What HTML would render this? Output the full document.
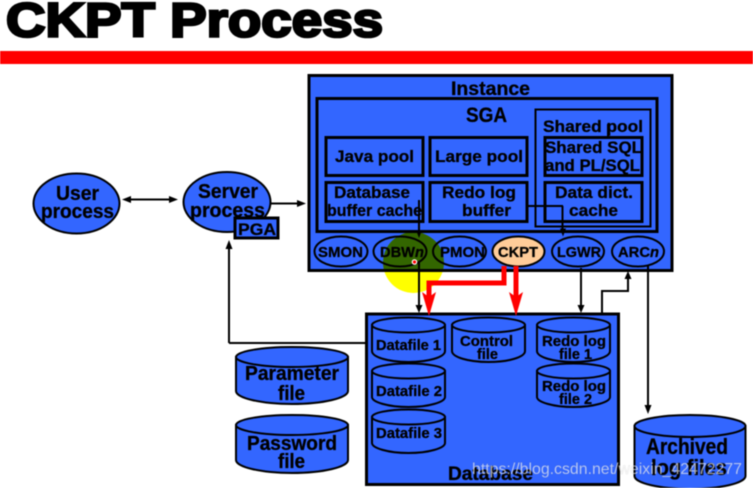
<!DOCTYPE html>
<html>
<head>
<meta charset="utf-8">
<style>
html,body{margin:0;padding:0;background:#fff;width:753px;height:488px;overflow:hidden}
svg{display:block;filter:blur(.4px)}
text{font-family:"Liberation Sans",Arial,sans-serif;font-weight:bold;fill:#000;stroke:#000;stroke-width:.3}
.b{fill:#3366ff;stroke:#000}
.l{fill:none;stroke:#000;stroke-width:2}
</style>
</head>
<body>
<svg width="753" height="488" viewBox="0 0 753 488" xmlns="http://www.w3.org/2000/svg">
<rect width="753" height="488" fill="#fff"/>
<!-- title -->
<text x="6" y="36.500" font-size="48" textLength="377" lengthAdjust="spacingAndGlyphs" style="stroke-width:2.6">CKPT Process</text>
<rect x="0" y="51" width="753" height="13" fill="#ff0000"/>

<!-- left connectors -->
<path class="l" d="M229 343V246M229 343H366"/>
<path d="M229 240l-3.500 9h7z"/>
<path class="l" d="M126 199.500H174"/>
<path d="M122 199.500l9-3.500v7zM178 199.500l-9-3.500v7z"/>
<path class="l" d="M271 203.500H301"/>
<path d="M306 203.500l-9-3.500v7z"/>

<!-- user / server -->
<ellipse class="b" cx="76.500" cy="203.500" rx="43" ry="30" stroke-width="2"/>
<text x="56" y="200" font-size="20" textLength="43" lengthAdjust="spacingAndGlyphs">User</text>
<text x="41" y="218" font-size="20" textLength="73" lengthAdjust="spacingAndGlyphs">process</text>
<ellipse class="b" cx="227" cy="202" rx="43.500" ry="30" stroke-width="2"/>
<text x="198" y="198" font-size="20" textLength="60" lengthAdjust="spacingAndGlyphs">Server</text>
<text x="190" y="217" font-size="20" textLength="75" lengthAdjust="spacingAndGlyphs">process</text>
<rect class="b" x="235" y="218" width="43" height="20" stroke-width="3"/>
<text x="238" y="235" font-size="17" textLength="38" lengthAdjust="spacingAndGlyphs">PGA</text>

<!-- instance -->
<rect class="b" x="309" y="75.500" width="363" height="195" stroke-width="3"/>
<text x="451" y="95" font-size="19" textLength="79" lengthAdjust="spacingAndGlyphs">Instance</text>
<rect class="b" x="317" y="98.500" width="340" height="133" stroke-width="3"/>
<text x="466" y="122" font-size="21" textLength="41" lengthAdjust="spacingAndGlyphs">SGA</text>
<rect class="b" x="535.500" y="109.500" width="115" height="117" stroke-width="2"/>
<text x="543" y="132" font-size="17" textLength="100" lengthAdjust="spacingAndGlyphs">Shared pool</text>
<path class="l" d="M608 124V138"/>

<rect class="b" x="326" y="137.500" width="97" height="38" stroke-width="3"/>
<text x="335" y="162" font-size="17" textLength="79" lengthAdjust="spacingAndGlyphs">Java pool</text>
<rect class="b" x="430" y="137.500" width="97" height="38" stroke-width="3"/>
<text x="435" y="162" font-size="17" textLength="88" lengthAdjust="spacingAndGlyphs">Large pool</text>
<rect class="b" x="545" y="137.500" width="97" height="38" stroke-width="3"/>
<text x="545" y="153" font-size="17" textLength="97" lengthAdjust="spacingAndGlyphs">Shared SQL</text>
<text x="545" y="171" font-size="17" textLength="95" lengthAdjust="spacingAndGlyphs">and PL/SQL</text>

<rect class="b" x="326" y="182.500" width="97" height="39" stroke-width="3"/>
<text x="334" y="198" font-size="17" textLength="76" lengthAdjust="spacingAndGlyphs">Database</text>
<text x="327" y="216" font-size="17" textLength="95" lengthAdjust="spacingAndGlyphs">buffer cache</text>
<rect class="b" x="430" y="182.500" width="97" height="39" stroke-width="3"/>
<text x="442" y="198" font-size="17" textLength="74" lengthAdjust="spacingAndGlyphs">Redo log</text>
<text x="462" y="216" font-size="17" textLength="49" lengthAdjust="spacingAndGlyphs">buffer</text>
<rect class="b" x="545" y="182.500" width="97" height="39" stroke-width="3"/>
<text x="555" y="198" font-size="17" textLength="78" lengthAdjust="spacingAndGlyphs">Data dict.</text>
<text x="569" y="216" font-size="17" textLength="49" lengthAdjust="spacingAndGlyphs">cache</text>

<!-- process ellipses -->
<ellipse class="b" cx="341" cy="251.500" rx="26.500" ry="15" stroke-width="2"/>
<ellipse class="b" cx="400" cy="251.500" rx="26.500" ry="15" stroke-width="2"/>
<ellipse class="b" cx="459.500" cy="251.500" rx="26.500" ry="15" stroke-width="2"/>
<ellipse cx="518.500" cy="251.500" rx="26" ry="15" fill="#ffcc99" stroke="#000" stroke-width="2"/>
<ellipse class="b" cx="578" cy="251.500" rx="26" ry="15" stroke-width="2"/>
<ellipse class="b" cx="638" cy="251.500" rx="26" ry="15" stroke-width="2"/>
<text x="318" y="257" font-size="15" textLength="45" lengthAdjust="spacingAndGlyphs">SMON</text>
<text x="380" y="257" font-size="15" textLength="44" lengthAdjust="spacingAndGlyphs">DBW<tspan font-style="italic">n</tspan></text>
<text x="440" y="257" font-size="15" textLength="45" lengthAdjust="spacingAndGlyphs">PMON</text>
<text x="498" y="257" font-size="15" textLength="40" lengthAdjust="spacingAndGlyphs">CKPT</text>
<text x="557" y="257" font-size="15" textLength="44" lengthAdjust="spacingAndGlyphs">LGWR</text>
<text x="618" y="257" font-size="15" textLength="41" lengthAdjust="spacingAndGlyphs">ARC<tspan font-style="italic">n</tspan></text>

<!-- inner connectors -->
<path class="l" d="M419 200V234"/>
<path d="M419 238l-3-8h6z"/>
<path d="M527 205h36v2h-36z"/>
<path class="l" d="M562.500 206V232"/>
<path d="M563 236.500l-3-8h6z"/>

<!-- database -->
<path class="l" d="M419 262V308"/>
<path class="l" d="M581 268V308M648 265V408M602 313V291H628V277"/>
<path d="M419 313l-3.500-8h7zM581 313l-3.500-8h7zM648 414l-3.500-9h7zM628 271l-3.500 8h7z"/>
<rect class="b" x="366.500" y="314" width="252" height="170.500" stroke-width="3"/>
<path d="M601 312h2v3h-2z"/>

<!-- database cylinders -->
<g stroke-width="2">
<path class="b" d="M372 325v26c0 6 16 11 36.500 11s36.500-5 36.500-11v-26z"/>
<ellipse class="b" cx="408.500" cy="325" rx="36.500" ry="7.500"/>
<path class="b" d="M372 371v26c0 5 16 10 36.500 10s36.500-5 36.500-10v-26z"/>
<ellipse class="b" cx="408.500" cy="371" rx="36.500" ry="7.500"/>
<path class="b" d="M372 417v26c0 5 16 10 36.500 10s36.500-5 36.500-10v-26z"/>
<ellipse class="b" cx="408.500" cy="417" rx="36.500" ry="7.500"/>
<path class="b" d="M452 325v26c0 6 16 11 36.500 11s36.500-5 36.500-11v-26z"/>
<ellipse class="b" cx="488.500" cy="325" rx="36.500" ry="7.500"/>
<path class="b" d="M537 325v26c0 6 16 11 36.500 11s36.500-5 36.500-11v-26z"/>
<ellipse class="b" cx="573.500" cy="325" rx="36.500" ry="7.500"/>
<path class="b" d="M537 371v26c0 5 16 10 36.500 10s36.500-5 36.500-10v-26z"/>
<ellipse class="b" cx="573.500" cy="371" rx="36.500" ry="7.500"/>
<!-- external -->
<path class="b" d="M236 357v34c0 7 25 13 56 13s56-6 56-13v-34z"/>
<ellipse class="b" cx="292" cy="357" rx="56" ry="10"/>
<path class="b" d="M236 425v35c0 7 25 13 56 13s56-6 56-13v-35z"/>
<ellipse class="b" cx="292" cy="425" rx="56" ry="10"/>
<path class="b" d="M634.500 426v50c0 7 25 13 55.500 13s55.500-6 55.500-13v-50z"/>
<ellipse class="b" cx="690" cy="426" rx="55.500" ry="11"/>
</g>
<text x="376" y="350" font-size="15" textLength="65" lengthAdjust="spacingAndGlyphs">Datafile 1</text>
<text x="376" y="396" font-size="15" textLength="66" lengthAdjust="spacingAndGlyphs">Datafile 2</text>
<text x="376" y="438" font-size="15" textLength="66" lengthAdjust="spacingAndGlyphs">Datafile 3</text>
<text x="460" y="346" font-size="15" textLength="53" lengthAdjust="spacingAndGlyphs">Control</text>
<text x="477" y="359" font-size="15" textLength="21" lengthAdjust="spacingAndGlyphs">file</text>
<text x="542" y="346" font-size="15" textLength="64" lengthAdjust="spacingAndGlyphs">Redo log</text>
<text x="559" y="359" font-size="15" textLength="33" lengthAdjust="spacingAndGlyphs">file 1</text>
<text x="542" y="391" font-size="15" textLength="64" lengthAdjust="spacingAndGlyphs">Redo log</text>
<text x="559" y="404" font-size="15" textLength="33" lengthAdjust="spacingAndGlyphs">file 2</text>
<text x="448" y="480" font-size="19" textLength="85" lengthAdjust="spacingAndGlyphs">Database</text>
<text x="245" y="380" font-size="20" textLength="94" lengthAdjust="spacingAndGlyphs">Parameter</text>
<text x="278" y="400" font-size="20" textLength="27" lengthAdjust="spacingAndGlyphs">file</text>
<text x="247" y="450" font-size="20" textLength="90" lengthAdjust="spacingAndGlyphs">Password</text>
<text x="278" y="468" font-size="20" textLength="27" lengthAdjust="spacingAndGlyphs">file</text>
<text x="646" y="454" font-size="22" textLength="82" lengthAdjust="spacingAndGlyphs">Archived</text>
<text x="651" y="475" font-size="22" textLength="76" lengthAdjust="spacingAndGlyphs">log files</text>

<!-- red CKPT arrows -->
<path d="M504 266V283H429V300" fill="none" stroke="#ff0000" stroke-width="5"/>
<path d="M516 266V300" fill="none" stroke="#ff0000" stroke-width="5"/>
<path d="M429 316l-7-24 7 5 7-5z" fill="#ff0000"/>
<path d="M516 316l-7-24 7 5 7-5z" fill="#ff0000"/>

<!-- yellow highlight -->
<circle cx="413.500" cy="262.500" r="30.500" fill="#ffff00" style="mix-blend-mode:multiply"/>
<circle cx="414.500" cy="262" r="2.200" fill="#f00" stroke="#fff" stroke-width="1.200"/>

<!-- watermark -->
<text x="472" y="474" font-size="16" textLength="270" lengthAdjust="spacingAndGlyphs" style="font-weight:normal;fill:#fff;fill-opacity:.65;stroke:#666;stroke-opacity:.2;stroke-width:.4">https://blog.csdn.net/weixin_42472277</text>
</svg>
</body>
</html>
